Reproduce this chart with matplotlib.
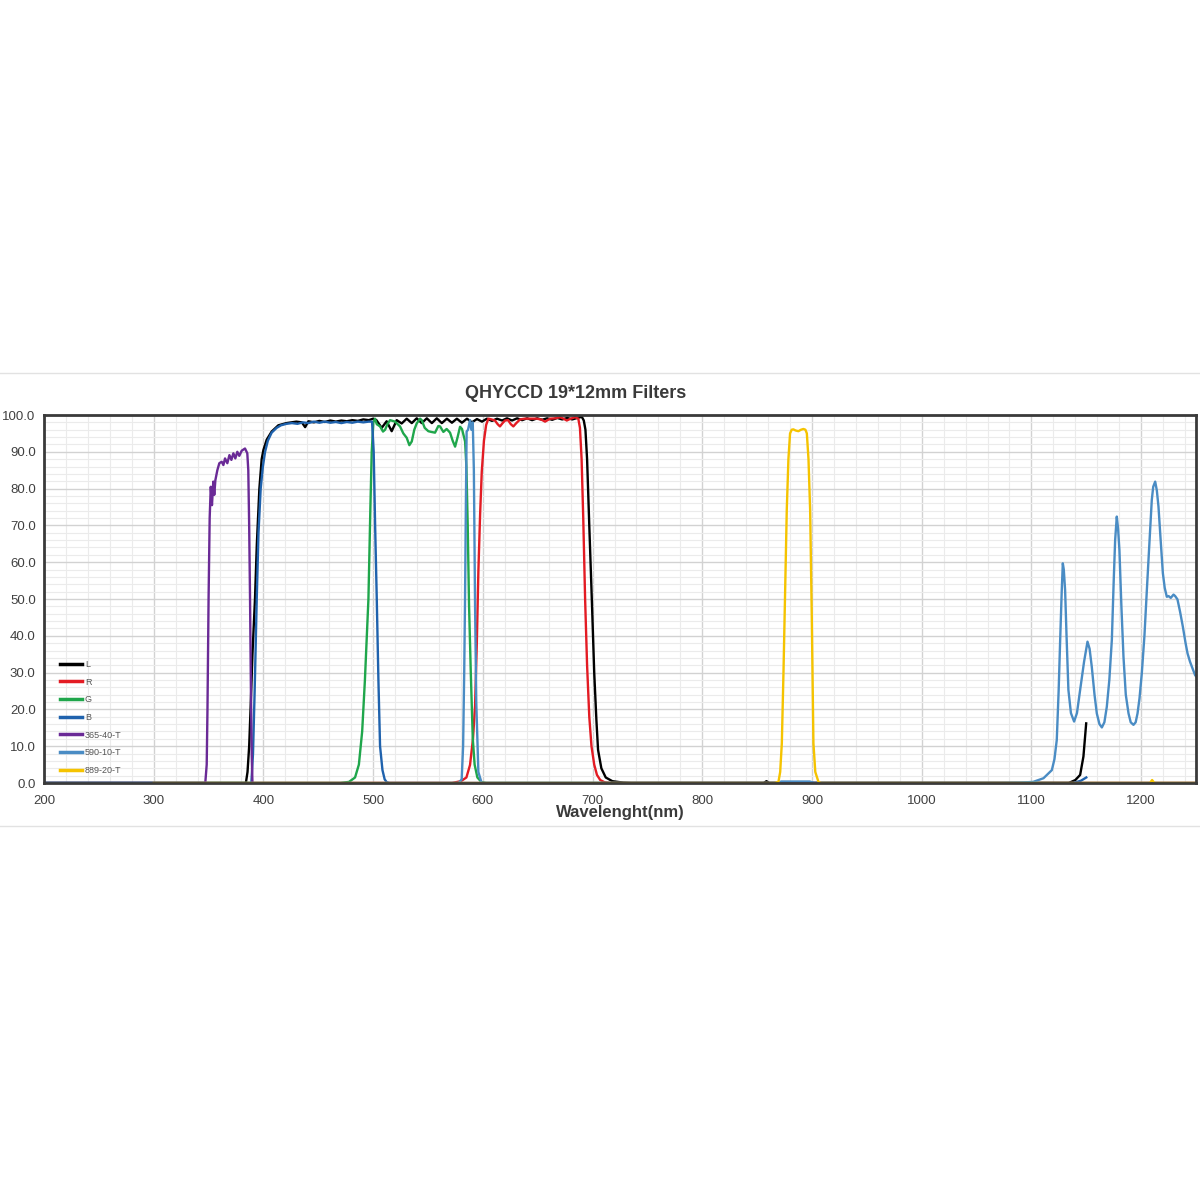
import matplotlib
matplotlib.use('Agg')
import matplotlib.pyplot as plt
from matplotlib.ticker import MultipleLocator, FormatStrFormatter
from matplotlib.lines import Line2D

plt.rcParams['font.family'] = ['Liberation Sans', 'DejaVu Sans']

# Transmission curves: (wavelength nm, transmission %)
L_curve = [(200, 0), (384, 0), (385.5, 3), (387, 10), (388.5, 22), (390, 35), (392.3, 50),
           (394, 65), (396.3, 80), (398.4, 88), (400, 90.5), (403, 93.3), (407.5, 95.5),
           (413.6, 97.2), (421, 97.8), (430, 98.2), (435, 98.0), (438, 96.7), (441, 98.3),
           (446, 98.0), (451, 98.4), (456, 98.1), (461, 98.5), (466, 98.2), (471, 98.5),
           (476, 98.3), (481, 98.6), (486, 98.4), (491, 98.8), (496, 98.6), (500, 99.0),
           (503, 98.6), (507.8, 96.5), (512.3, 98.3), (516.9, 95.6), (521.5, 98.6),
           (526, 97.7), (530.6, 99.0), (535.2, 97.8), (539.7, 99.1), (544.3, 97.8),
           (548.9, 99.1), (553.5, 97.8), (558, 99.1), (562.6, 97.8), (567.2, 99.0),
           (571.8, 97.9), (576.3, 99.0), (580.9, 97.9), (585.5, 99.0), (590, 98.0),
           (594.6, 98.9), (599.2, 98.2), (603.7, 99.0), (608.3, 98.4), (612.9, 99.0),
           (617.5, 98.5), (622, 99.1), (626.6, 98.5), (631.2, 99.1), (635.8, 98.6),
           (640.3, 99.1), (644.9, 98.6), (649.5, 99.1), (654, 98.7), (658.6, 99.1),
           (663.2, 98.7), (667.8, 99.2), (672.3, 98.8), (676.9, 99.2), (681.5, 98.8),
           (686, 99.2), (690.2, 99.5), (692, 98.5), (693.5, 96), (695, 88), (697, 70),
           (699.3, 50), (701.5, 30), (703.5, 17), (705, 9), (708, 4), (712, 1.5),
           (718, 0.5), (728, 0.1), (735, 0), (856, 0), (858.5, 0.5), (861, 0), (1134, 0),
           (1140, 0.8), (1144.4, 2.2), (1147.4, 7.2), (1149.9, 16.2)]

R_curve = [(200, 0), (572, 0), (580, 0.5), (585, 1.5), (588.3, 4.9), (591, 12), (592.9, 21),
           (594.5, 38), (595.9, 57.4), (597.5, 73), (599, 84.6), (601, 93), (603, 97.3),
           (605, 99), (608, 98.8), (611, 98.5), (613.5, 97.5), (615.6, 96.9), (618, 97.8),
           (620.2, 98.5), (623, 98.6), (625.5, 97.5), (627.8, 96.9), (630.5, 97.8),
           (633.9, 98.8), (638, 99.0), (643, 99.0), (649, 99.0), (653, 98.8), (656.7, 98.2),
           (659, 98.6), (661.3, 99.0), (666, 99.1), (670.4, 99.4), (673.5, 99.0),
           (676.5, 98.5), (680, 99.0), (684, 99.4), (687, 99.0), (688.5, 96.5), (690, 88),
           (691.5, 72), (693.2, 50), (695, 32), (697, 18), (699, 10), (701.5, 5), (704, 2.2),
           (707, 0.8), (711, 0.2), (716, 0), (1250, 0)]

G_curve = [(200, 0), (470, 0), (478, 0.3), (483.5, 1.5), (487, 5), (490, 14), (492.5, 28),
           (495.7, 50), (497.5, 75), (498.7, 90), (500.2, 98), (501.7, 99), (503.3, 97.5),
           (506.3, 96.9), (509, 95.5), (510.9, 96), (513, 97.5), (515.4, 98.6), (520, 98.2),
           (524.5, 96.9), (527.5, 95), (530.6, 93.8), (533, 91.8), (535.2, 92.8),
           (537.5, 96), (539.7, 97.7), (542.8, 99), (544.3, 98.6), (547, 96.5), (550.3, 95.6),
           (553, 95.4), (556.4, 95.2), (559.4, 97.0), (561, 96.9), (564, 95.4), (567, 96.2),
           (570.1, 95.2), (572.5, 93), (574.7, 91.4), (577, 94), (579.2, 96.8), (581, 96.2),
           (583.8, 92.8), (585, 86), (586.2, 70), (587.4, 48.4), (589, 30), (590.8, 12.1),
           (592.5, 5), (595, 1.5), (598.9, 0.2), (603, 0), (1250, 0)]

B_curve = [(200, 0), (389, 0), (390.5, 8), (392, 25), (393.9, 50), (395.5, 68), (397.5, 80),
           (399.5, 86), (401.5, 90), (404, 93), (407.5, 95.2), (412, 96.5), (416, 97.2),
           (421, 97.6), (426, 97.8), (431, 97.6), (436, 98.0), (441, 97.8), (446, 98.2),
           (451, 97.9), (456, 98.2), (461, 97.9), (466, 98.1), (471, 97.8), (476, 98.1),
           (481, 97.9), (486, 98.2), (491, 98.0), (496, 98.2), (499, 98.2), (500.5, 90),
           (501.8, 70), (503.3, 50), (504.8, 28), (506.3, 10), (508.5, 3.5), (510.5, 1),
           (512.4, 0.2), (515, 0), (1138, 0), (1145, 0.6), (1150, 1.5)]

UV365_curve = [(200, 0), (347, 0), (348.3, 5), (349, 20), (350, 50), (351, 72), (352, 80.5),
               (353.1, 75.5), (354.3, 81.9), (355.2, 78.3), (356.2, 82.3), (358, 85),
               (359.8, 86.9), (362, 87.3), (363.5, 86.4), (365, 88.2), (367.1, 86.9),
               (369, 89.1), (370.8, 87.8), (372.6, 89.6), (374.4, 88.2), (376.2, 90),
               (378, 88.9), (380.2, 90.3), (383.2, 90.9), (385.3, 89.6), (386.2, 85),
               (387, 70), (387.8, 50), (388.6, 25), (389.3, 8), (390, 0), (1250, 0)]

NB590_curve = [(200, 0), (578, 0), (580.7, 1), (582, 10), (583, 30), (583.7, 48.4), (584.5, 75),
               (585.2, 95.5), (586.5, 96), (588.3, 98.6), (589.5, 96), (590.8, 98),
               (591.8, 85), (592.9, 48), (594, 22), (595.9, 3), (598.9, 0), (868, 0),
               (872, 0.4), (898, 0.4), (902, 0), (1071, 0), (1090, 0.1), (1101.6, 0.3),
               (1111, 1.3), (1118.6, 3.5), (1121, 6.5), (1123.1, 11.7), (1124.8, 25),
               (1126.2, 38.9), (1127.6, 52), (1128.6, 59.7), (1129.5, 58), (1130.7, 52.4),
               (1132, 40), (1133.7, 25.3), (1136, 19), (1138.9, 16.7), (1141.5, 19),
               (1144.4, 25.3), (1148, 33), (1151.1, 38.4), (1153, 36.5), (1155, 31.6),
               (1157.5, 24), (1159.6, 18.9), (1162, 16), (1164.2, 15.1), (1166.5, 16.5),
               (1168.7, 20.7), (1171, 28), (1173.3, 38.9), (1175, 55), (1176.3, 66),
               (1177.8, 72.4), (1179, 69), (1180.2, 63.3), (1182, 48), (1183.9, 34.3),
               (1186, 24), (1188.5, 18.9), (1190.5, 16.5), (1193, 15.8), (1195, 16.5),
               (1196.7, 18.9), (1198.5, 23), (1200.6, 29.8), (1203, 40), (1205.2, 52.4),
               (1207.5, 65), (1209.7, 76.9), (1211, 80.5), (1212.8, 81.9), (1214.3, 79.5),
               (1215.8, 75.1), (1218, 65), (1219.8, 57), (1221.5, 53), (1223.4, 50.6),
               (1225, 50.8), (1227, 50.3), (1229.5, 51.2), (1231, 50.8), (1233.1, 49.9),
               (1235.5, 46.5), (1238, 42.5), (1240.5, 38), (1242.3, 35.2), (1244.5, 33),
               (1247, 31), (1249.2, 29.3), (1250, 29)]

IR889_curve = [(300, 0), (866, 0), (869.4, 0.3), (871, 3), (872.5, 10.8), (874, 30), (875.5, 52),
               (877, 74.2), (878.5, 88), (880, 95), (881.5, 96), (883, 96.1), (885, 95.8),
               (887.6, 95.6), (890, 96), (892.2, 96.2), (894, 96), (895.3, 95), (896.8, 88),
               (898.3, 74.2), (899.8, 45), (901.3, 10.8), (903, 3), (905.9, 0.3), (908, 0),
               (1208, 0), (1210, 0.8), (1212, 0), (1250, 0)]

labels = ['L', 'R', 'G', 'B', '365-40-T', '590-10-T', '889-20-T']
curves = [L_curve, R_curve, G_curve, B_curve, UV365_curve, NB590_curve, IR889_curve]
colors = ['#000000', '#e31b23', '#1fa64b', '#1f62ad', '#6a2a96', '#4a8cc4', '#f5c300']

fig = plt.figure(figsize=(12, 12), dpi=100)
ax = fig.add_axes([44 / 1200, 1 - 783 / 1200, 1152 / 1200, 368 / 1200])

for pts, lab, col in zip(curves, labels, colors):
    wl = [p[0] for p in pts]
    tr = [p[1] for p in pts]
    ax.plot(wl, tr, color=col, lw=1.7, label=lab, solid_joinstyle='round')

ax.set_xlim(200, 1250)
ax.set_ylim(0, 100)
ax.xaxis.set_major_locator(MultipleLocator(100))
ax.xaxis.set_minor_locator(MultipleLocator(20))
ax.yaxis.set_major_locator(MultipleLocator(10))
ax.yaxis.set_minor_locator(MultipleLocator(2))
ax.yaxis.set_major_formatter(FormatStrFormatter('%.1f'))
ax.set_xticks([200, 300, 400, 500, 600, 700, 800, 900, 1000, 1100, 1200])

# grid
ax.grid(True, which='major', color='#d2d2d2', lw=1.0)
ax.grid(True, which='minor', color='#ebebeb', lw=0.8)
ax.set_axisbelow(True)
ax.tick_params(which='both', length=0, labelsize=9.5, colors='#404040')
ax.tick_params(axis='y', pad=6)
ax.tick_params(axis='x', pad=9)
for s in ax.spines.values():
    s.set_color('#3a3a3a')
    s.set_linewidth(2)

leg = ax.legend(loc='lower left', bbox_to_anchor=(0.0139, 0.022), frameon=False,
                fontsize=6.5, handlelength=2.45, handletextpad=0.3, labelspacing=0.96,
                borderpad=0, borderaxespad=0)
for t in leg.get_texts():
    t.set_color('#555555')
for h in leg.get_lines():
    h.set_linewidth(2.5)

fig.text(576 / 1200, 1 - 394 / 1200, 'QHYCCD 19*12mm Filters', ha='center', va='center',
         fontsize=13, fontweight='bold', color='#3a3a3a')
fig.text(620 / 1200, 1 - 813 / 1200, 'Wavelenght(nm)', ha='center', va='center',
         fontsize=12, fontweight='bold', color='#3a3a3a')

# separator lines above and below the chart
fig.add_artist(Line2D([0, 1], [1 - 373 / 1200, 1 - 373 / 1200], color='#e2e2e2', lw=1))
fig.add_artist(Line2D([0, 1], [1 - 826 / 1200, 1 - 826 / 1200], color='#e2e2e2', lw=1))

plt.savefig('out.png', dpi=100)
